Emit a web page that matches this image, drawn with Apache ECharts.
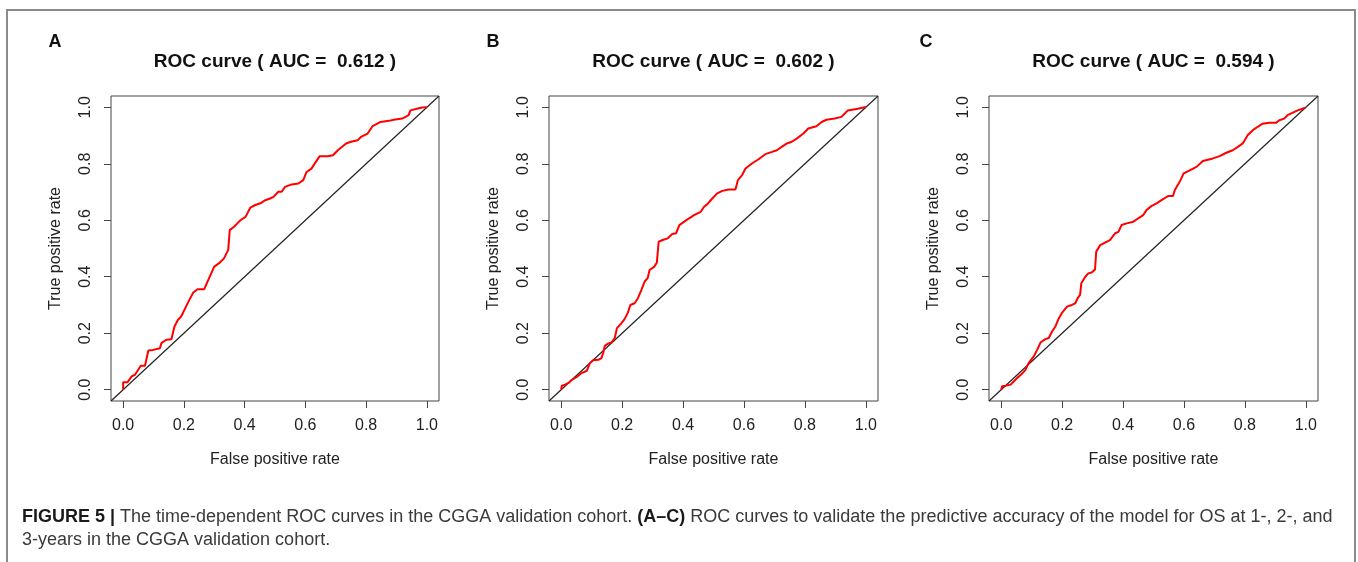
<!DOCTYPE html>
<html><head><meta charset="utf-8">
<script src="https://cdn.jsdelivr.net/npm/echarts@6/dist/echarts.min.js"></script>
<style>html,body{margin:0;padding:0;background:#fff}#c{width:1358px;height:562px}</style>
</head><body><div id="c"></div>
<script>
// ---- data ----
const panelLetters = ['A', 'B', 'C'];
const aucValues = ['0.612', '0.602', '0.594'];
const tickValues = [0, 0.2, 0.4, 0.6, 0.8, 1.0];
const xAxisTitle = 'False positive rate';
const yAxisTitle = 'True positive rate';
const diagonalX = [-0.04, 1.04];
const diagonalY = [-0.04, 1.04];

const fprA = [0,0,0.014,0.028,0.039,0.058,0.072,0.083,0.099,0.121,0.126,0.142,0.159,0.169,0.180,0.191,0.207,0.218,0.231,0.245,0.267,0.283,0.300,0.316,0.332,0.346,0.351,0.365,0.376,0.387,0.403,0.419,0.435,0.452,0.468,0.484,0.495,0.511,0.522,0.533,0.555,0.577,0.593,0.604,0.620,0.647,0.674,0.691,0.707,0.734,0.750,0.772,0.783,0.805,0.821,0.848,0.875,0.891,0.919,0.924,0.940,0.946,0.967,0.984,1.0];
const tprA = [0,0.026,0.026,0.047,0.053,0.085,0.085,0.139,0.141,0.147,0.165,0.177,0.179,0.224,0.247,0.259,0.294,0.318,0.344,0.356,0.356,0.395,0.436,0.448,0.465,0.495,0.565,0.577,0.589,0.601,0.612,0.645,0.654,0.660,0.671,0.677,0.683,0.701,0.701,0.718,0.727,0.730,0.742,0.771,0.783,0.827,0.827,0.830,0.848,0.872,0.878,0.883,0.895,0.907,0.933,0.948,0.952,0.956,0.960,0.966,0.972,0.989,0.995,0.999,1.0];

const fprB = [0,0.002,0.013,0.024,0.035,0.051,0.067,0.084,0.094,0.105,0.122,0.132,0.138,0.143,0.154,0.165,0.176,0.183,0.198,0.208,0.219,0.227,0.241,0.252,0.263,0.274,0.284,0.290,0.306,0.314,0.320,0.333,0.350,0.364,0.377,0.388,0.404,0.420,0.436,0.458,0.469,0.480,0.496,0.512,0.529,0.550,0.572,0.580,0.594,0.605,0.626,0.648,0.670,0.692,0.708,0.724,0.741,0.757,0.773,0.795,0.811,0.838,0.855,0.871,0.898,0.920,0.931,0.941,0.974,0.996,1.0];
const tprB = [0,0.014,0.018,0.024,0.035,0.045,0.059,0.067,0.094,0.104,0.106,0.112,0.130,0.155,0.163,0.167,0.183,0.218,0.236,0.250,0.273,0.300,0.306,0.324,0.353,0.383,0.395,0.424,0.436,0.450,0.524,0.530,0.536,0.551,0.554,0.583,0.595,0.607,0.618,0.630,0.648,0.657,0.677,0.695,0.704,0.709,0.709,0.742,0.760,0.783,0.801,0.816,0.834,0.842,0.848,0.860,0.872,0.878,0.889,0.907,0.925,0.933,0.948,0.956,0.960,0.966,0.978,0.989,0.995,1.0,1.0];

const fprC = [0,0.003,0.014,0.031,0.041,0.052,0.069,0.080,0.090,0.107,0.118,0.129,0.145,0.156,0.167,0.178,0.188,0.199,0.216,0.232,0.243,0.251,0.259,0.263,0.276,0.286,0.297,0.308,0.312,0.325,0.341,0.357,0.374,0.385,0.395,0.412,0.434,0.450,0.466,0.477,0.493,0.510,0.526,0.548,0.564,0.570,0.586,0.599,0.619,0.641,0.662,0.695,0.717,0.739,0.760,0.777,0.793,0.809,0.826,0.842,0.858,0.880,0.902,0.913,0.929,0.940,0.956,0.973,0.989,0.998,1.0];
const tprC = [0,0.012,0.014,0.018,0.029,0.041,0.057,0.071,0.094,0.118,0.141,0.167,0.179,0.183,0.206,0.224,0.250,0.271,0.294,0.300,0.306,0.324,0.336,0.377,0.400,0.412,0.415,0.426,0.489,0.512,0.521,0.530,0.554,0.559,0.583,0.589,0.595,0.607,0.618,0.636,0.650,0.660,0.671,0.686,0.686,0.707,0.736,0.766,0.777,0.789,0.810,0.819,0.827,0.839,0.848,0.860,0.872,0.901,0.919,0.931,0.942,0.945,0.945,0.954,0.960,0.972,0.980,0.989,0.995,0.999,1.0];

const captionLine1Bold = 'FIGURE 5 |';
const captionLine1a = ' The time-dependent ROC curves in the CGGA validation cohort. ';
const captionLine1Bold2 = '(A\u2013C)';
const captionLine1b = ' ROC curves to validate the predictive accuracy of the model for OS at 1-, 2-, and';
const captionLine2 = '3-years in the CGGA validation cohort.';

// ---- layout ----
const FONT = "'Liberation Sans', Arial, Helvetica, sans-serif";
const gridLefts = [111, 549, 989];
const gridWidths = [328, 329, 329];
const letterX = [55, 493, 926];
const fprs = [fprA, fprB, fprC];
const tprs = [tprA, tprB, tprC];

const grids = [], xAxes = [], yAxes = [], series = [], titles = [];
for (let i = 0; i < 3; i++) {
  grids.push({left: gridLefts[i], top: 96, width: gridWidths[i], height: 305,
    show: true, borderColor: '#444', borderWidth: 1, backgroundColor: 'transparent'});
  const axisCommon = {
    type: 'value', min: -0.04, max: 1.04, gridIndex: i,
    axisLine: {show: false, onZero: false},
    splitLine: {show: false},
    axisTick: {show: true, inside: false, length: 7, customValues: tickValues, lineStyle: {color: '#444', width: 1}},
    axisLabel: {show: true, customValues: tickValues, formatter: v => v.toFixed(1),
      fontSize: 16, fontFamily: FONT, color: '#222'},
    nameLocation: 'middle',
    nameTextStyle: {fontSize: 16, fontFamily: FONT, color: '#222'}
  };
  xAxes.push(Object.assign({}, axisCommon, {name: xAxisTitle, nameGap: 51,
    axisLabel: Object.assign({}, axisCommon.axisLabel, {margin: 17})}));
  yAxes.push(Object.assign({}, axisCommon, {name: yAxisTitle, nameGap: 47, nameRotate: 90,
    axisLabel: Object.assign({}, axisCommon.axisLabel, {margin: 17, rotate: 90})}));
  series.push({type: 'line', xAxisIndex: i, yAxisIndex: i, data: diagonalX.map((x, k) => [x, diagonalY[k]]),
    showSymbol: false, symbol: 'none', lineStyle: {color: '#222', width: 1.2}, silent: true, z: 2});
  series.push({type: 'line', xAxisIndex: i, yAxisIndex: i, data: fprs[i].map((x, k) => [x, tprs[i][k]]),
    showSymbol: false, symbol: 'none', lineStyle: {color: '#ff0000', width: 2}, silent: true, z: 3});
  titles.push({text: 'ROC curve ( AUC =  ' + aucValues[i] + ' )', left: gridLefts[i] + gridWidths[i] / 2,
    top: 50, textAlign: 'center', padding: 0,
    textStyle: {fontSize: 19, fontWeight: 'bold', fontFamily: FONT, color: '#111', lineHeight: 24}});
  titles.push({text: panelLetters[i], left: letterX[i], top: 32, textAlign: 'center', padding: 0,
    textStyle: {fontSize: 18, fontWeight: 'bold', fontFamily: FONT, color: '#111', lineHeight: 20}});
}
titles.push({
  text: '{b|' + captionLine1Bold + '}' + captionLine1a + '{b|' + captionLine1Bold2 + '}' + captionLine1b + '\n' + captionLine2,
  left: 22, top: 506, padding: 0,
  textStyle: {fontSize: 18, fontWeight: 'normal', fontFamily: FONT, color: '#3a3a3a', lineHeight: 23,
    rich: {b: {fontWeight: 'bold', fontSize: 18, fontFamily: FONT, color: '#1a1a1a', lineHeight: 23}}}
});

const chart = echarts.init(document.getElementById('c'), null, {renderer: 'canvas'});
chart.setOption({
  animation: false,
  backgroundColor: '#fff',
  title: titles,
  grid: grids, xAxis: xAxes, yAxis: yAxes, series: series,
  graphic: [{type: 'rect', shape: {x: 7, y: 10, width: 1348, height: 600}, silent: true,
    style: {fill: 'none', stroke: '#8a8a8a', lineWidth: 2}}]
});
</script></body></html>
